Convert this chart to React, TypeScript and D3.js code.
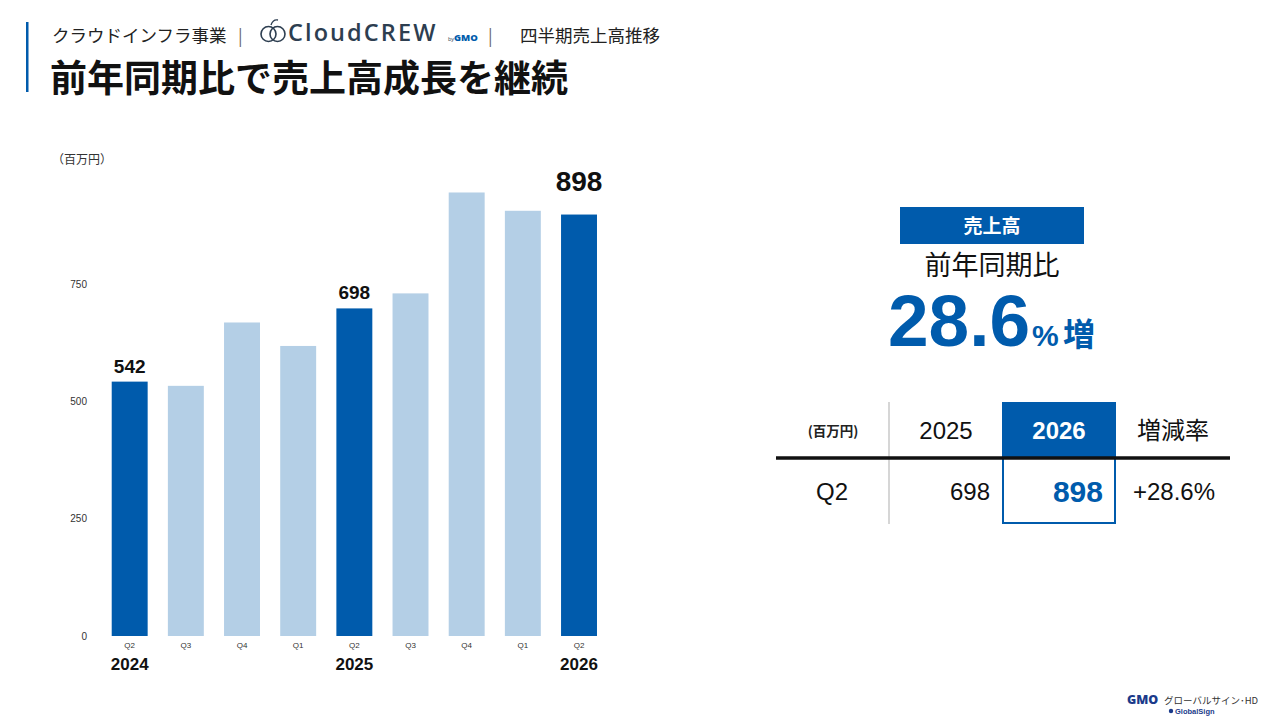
import React from 'react';
import * as d3 from 'd3';

const quarters = ['Q2', 'Q3', 'Q4', 'Q1', 'Q2', 'Q3', 'Q4', 'Q1', 'Q2'];
const sales = [542, 533, 668, 618, 698, 730, 945, 906, 898];
const highlighted = [true, false, false, false, true, false, false, false, true];
const yearLabels = ['2024', '', '', '', '2025', '', '', '', '2026'];
const yTicks = [0, 250, 500, 750];

const tableHeader = ['(百万円)', '2025', '2026', '増減率'];
const tableRow = ['Q2', '698', '898', '+28.6%'];

const DARK = '#005bac';
const LIGHT = '#b4cfe6';
const SANS = '"Liberation Sans", Arial, "Noto Sans CJK JP", sans-serif';
const JP = '"Noto Sans CJK JP", "Liberation Sans", sans-serif';

const App: React.FC = () => {
  const x = d3.scaleBand<number>()
    .domain(d3.range(sales.length))
    .range([101.6, 607.1])
    .paddingInner(0.36)
    .paddingOuter(0.18);

  const y = d3.scaleLinear()
    .domain([0, 750])
    .range([636, 284]);

  const bw = x.bandwidth();

  return (
    <svg width={1280} height={720} style={{ position: 'absolute', left: 0, top: 0, background: '#fff' }}>
      {/* header */}
      <rect x={26} y={22} width={2.5} height={70} fill={DARK} />
      <text x={52} y={42} fontFamily={JP} fontSize={17.5} fill="#222">クラウドインフラ事業</text>
      <text x={238} y={42} fontFamily={JP} fontSize={17} fill="#666">|</text>
      <g transform="translate(260,19)">
        <circle cx={8.5} cy={15} r={7.5} fill="none" stroke="#2d3e50" strokeWidth={1.6} />
        <circle cx={17.5} cy={15} r={7.5} fill="none" stroke="#2d3e50" strokeWidth={1.6} />
        <path d="M11,6 q2,-6 7,-5" fill="none" stroke="#2d3e50" strokeWidth={1.4} />
        <text x={28} y={22} fontFamily='"Open Sans", sans-serif' fontWeight={600} fontSize={23.5} letterSpacing={2.1} fill="#2d3e50">CloudCREW</text>
      </g>
      <text x={448} y={41} fontFamily='"Open Sans", sans-serif' fontSize={5.5} fill="#2d3e50">by</text>
      <text x={454} y={41} fontFamily='"Open Sans", sans-serif' fontWeight={800} fontSize={9.5} fill={DARK}>GMO</text>
      <text x={488} y={42} fontFamily={JP} fontSize={17} fill="#666">|</text>
      <text x={520} y={42} fontFamily={JP} fontSize={17.5} fill="#222">四半期売上高推移</text>
      <text x={50} y={92} fontFamily={JP} fontWeight={700} fontSize={37} fill="#111">前年同期比で売上高成長を継続</text>

      {/* unit */}
      <text x={52} y={164} fontFamily={JP} fontSize={12} fill="#333">（百万円）</text>

      {/* y ticks */}
      {yTicks.map(t => (
        <text key={t} x={87} y={y(t) + 3.5} textAnchor="end" fontFamily={SANS} fontSize={10} fill="#333">{t}</text>
      ))}

      {/* bars */}
      {sales.map((v, i) => (
        <rect key={i} x={x(i)} y={y(v)} width={bw} height={y(0) - y(v)} fill={highlighted[i] ? DARK : LIGHT} />
      ))}

      {/* value labels */}
      {sales.map((v, i) => highlighted[i] ? (
        <text key={i} x={(x(i) ?? 0) + bw / 2} y={y(v) - (i === 8 ? 24 : 9)} textAnchor="middle"
          fontFamily={SANS} fontWeight={700} fontSize={i === 8 ? 28 : 19} fill="#111">{v}</text>
      ) : null)}

      {/* x labels */}
      {quarters.map((q, i) => (
        <text key={i} x={(x(i) ?? 0) + bw / 2} y={648} textAnchor="middle" fontFamily={SANS} fontSize={8} fill="#333">{q}</text>
      ))}
      {yearLabels.map((l, i) => l ? (
        <text key={i} x={(x(i) ?? 0) + bw / 2} y={670} textAnchor="middle" fontFamily={SANS} fontWeight={700} fontSize={17} fill="#111">{l}</text>
      ) : null)}

      {/* right panel */}
      <rect x={900} y={207} width={184} height={37} fill={DARK} />
      <text x={992} y={233} textAnchor="middle" fontFamily={JP} fontWeight={700} fontSize={19} fill="#fff">売上高</text>
      <text x={992} y={275} textAnchor="middle" fontFamily={JP} fontSize={27} fill="#111">前年同期比</text>
      <text x={888} y={346} fontFamily={SANS} fontWeight={700} fontSize={73} fill={DARK}>28.6</text>
      <text x={1032} y={346} fontFamily={SANS} fontWeight={700} fontSize={30} fill={DARK}>%</text>
      <text x={1063} y={346} fontFamily={JP} fontWeight={700} fontSize={32} fill={DARK}>増</text>

      {/* table */}
      <rect x={1002} y={402} width={114} height={56} fill={DARK} />
      <rect x={1003} y={458} width={112} height={65} fill="none" stroke={DARK} strokeWidth={2} />
      <line x1={889} x2={889} y1={402} y2={524} stroke="#bbb" strokeWidth={1.2} />
      <line x1={776} x2={1230} y1={458} y2={458} stroke="#111" strokeWidth={3.5} />
      <text x={833} y={436} textAnchor="middle" fontFamily={JP} fontWeight={700} fontSize={13.5} fill="#222">{tableHeader[0]}</text>
      <text x={946} y={439} textAnchor="middle" fontFamily={SANS} fontSize={24} fill="#111">{tableHeader[1]}</text>
      <text x={1059} y={439} textAnchor="middle" fontFamily={SANS} fontWeight={700} fontSize={24} fill="#fff">{tableHeader[2]}</text>
      <text x={1173} y={439} textAnchor="middle" fontFamily={JP} fontSize={24} fill="#111">{tableHeader[3]}</text>
      <text x={832} y={500} textAnchor="middle" fontFamily={SANS} fontSize={24} fill="#111">{tableRow[0]}</text>
      <text x={990} y={500} textAnchor="end" fontFamily={SANS} fontSize={24} fill="#111">{tableRow[1]}</text>
      <text x={1103} y={502} textAnchor="end" fontFamily={SANS} fontWeight={700} fontSize={30} fill={DARK}>{tableRow[2]}</text>
      <text x={1174} y={500} textAnchor="middle" fontFamily={SANS} fontSize={24} fill="#111">{tableRow[3]}</text>

      {/* footer logo */}
      <text x={1127} y={704} fontFamily='"Open Sans", sans-serif' fontWeight={800} fontSize={12.5} fill="#1a3a8a">GMO</text>
      <text x={1164} y={704} fontFamily={JP} fontSize={9.5} fill="#333">グローバルサイン･HD</text>
      <circle cx={1171} cy={711} r={2.2} fill="#1a3a8a" />
      <text x={1175} y={714} fontFamily={SANS} fontWeight={700} fontSize={7.5} fill="#1a3a8a">GlobalSign</text>
    </svg>
  );
};

export default App;
